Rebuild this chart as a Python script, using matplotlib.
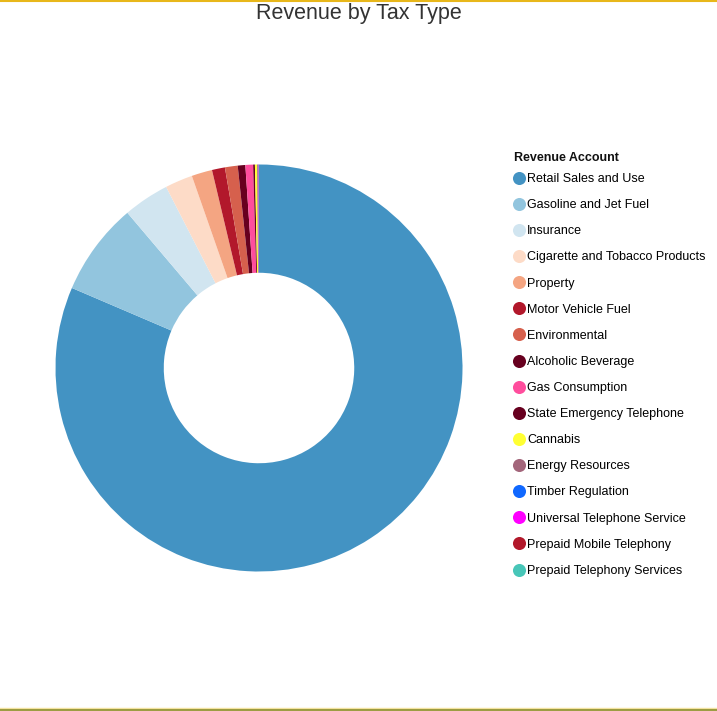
import matplotlib
matplotlib.use('Agg')
import matplotlib.pyplot as plt
from matplotlib.lines import Line2D

plt.rcParams['font.family'] = ['Liberation Sans', 'DejaVu Sans']

# Доли выручки по видам налогов (%, оценка по картинке)
accounts = [
    'Retail Sales and Use', 'Gasoline and Jet Fuel', 'Insurance',
    'Cigarette and Tobacco Products', 'Property', 'Motor Vehicle Fuel',
    'Environmental', 'Alcoholic Beverage', 'Gas Consumption',
    'State Emergency Telephone', 'Cannabis', 'Energy Resources',
    'Timber Regulation', 'Universal Telephone Service',
    'Prepaid Mobile Telephony', 'Prepaid Telephony Services',
]
revenue = [81.40, 7.37, 3.65, 2.19, 1.64, 1.03, 1.01, 0.60, 0.61,
           0.14, 0.17, 0.06, 0.03, 0.03, 0.02, 0.01]
colors = ['#4393c3', '#92c5de', '#d1e5f0', '#fddbc7', '#f4a582', '#b2182b',
          '#d6604d', '#67001f', '#ff4d9d', '#67001f', '#ffff33', '#a3667b',
          '#1068ff', '#ff00ff', '#b2182b', '#48c6b8']

W, H = 717, 711
fig = plt.figure(figsize=(W / 100, H / 100), dpi=100, facecolor='white')

# Донат: центр (259, 368), радиус ~203.5 px
cx, cy, r = 259, 368, 203.5
ax = fig.add_axes([(cx - r) / W, 1 - (cy + r) / H, 2 * r / W, 2 * r / H])
ax.pie(revenue, colors=colors, startangle=90, counterclock=False, radius=1,
       wedgeprops=dict(width=0.532, linewidth=0))
ax.set_xlim(-1, 1)
ax.set_ylim(-1, 1)
ax.set_aspect('equal')
ax.axis('off')

fig.text(0.5, 1 - 14 / H, 'Revenue by Tax Type', ha='center', va='center',
         fontsize=15.5, color='#333333')

# Легенда: заголовок отдельно, чтобы точнее выставить отступ
fig.text(514 / W, 1 - 158 / H, 'Revenue Account', ha='left', va='center',
         fontsize=9, fontweight='bold', color='#111111')
handles = [Line2D([0], [0], marker='o', linestyle='None', markersize=9.4,
                  markerfacecolor=c, markeredgewidth=0, label=a)
           for a, c in zip(accounts, colors)]
leg = fig.legend(handles=handles, loc='upper left',
                 bbox_to_anchor=(513 / W, 1 - 173 / H), frameon=False,
                 fontsize=9, handlelength=1.0, handletextpad=0.12,
                 labelspacing=1.13, borderpad=0, borderaxespad=0)

# Рамки сверху и снизу
fig.add_artist(Line2D([0, 1], [1 - 0.8 / H, 1 - 0.8 / H], color='#e8b71a', linewidth=1.5))
fig.add_artist(Line2D([0, 1], [3.5 / H, 3.5 / H], color='#f3e3a0', linewidth=1))
fig.add_artist(Line2D([0, 1], [1.5 / H, 1.5 / H], color='#8a8a1e', linewidth=1.2))

fig.savefig('out.png', dpi=100, facecolor='white')
